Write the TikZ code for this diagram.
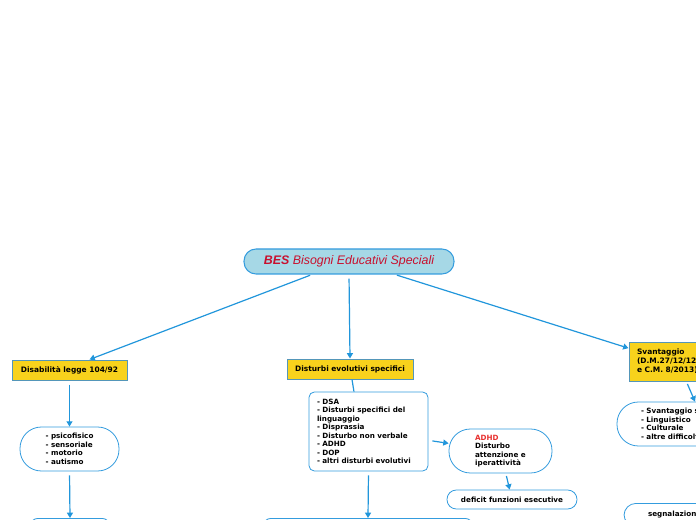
\documentclass[tikz,border=0pt]{standalone}
\usepackage{fontspec}
\setmainfont{DejaVu Sans}
\newfontfamily\titlefont{Liberation Sans}
\usepackage{xcolor}
\usetikzlibrary{arrows.meta, positioning}
\definecolor{rootfill}{RGB}{166, 216, 230}
\definecolor{edgeblue}{RGB}{52, 156, 222}
\definecolor{linkblue}{RGB}{33, 150, 219}
\definecolor{titlered}{RGB}{200, 16, 46}
\definecolor{catyellow}{RGB}{248, 210, 28}
\definecolor{catedge}{RGB}{84, 150, 185}
\definecolor{adhdred}{RGB}{232, 49, 47}

\begin{document}
\begin{tikzpicture}[
    x=0.75pt, y=-0.75pt,
    root/.style={rectangle, rounded corners=9pt, draw=edgeblue, fill=rootfill, line width=0.8pt, minimum width=157.5pt, minimum height=18.75pt, font=\titlefont\fontsize{9.3}{11}\selectfont\itshape, text=titlered},
    category/.style={rectangle, draw=catedge, fill=catyellow, line width=0.75pt, minimum height=15pt, inner sep=0pt, align=left, font=\bfseries\fontsize{5.6}{6.8}\selectfont},
    listbox/.style={rectangle, rounded corners=4pt, draw=edgeblue, fill=white, line width=0.6pt, inner sep=0pt, align=left, font=\bfseries\fontsize{5.4}{6.4}\selectfont},
    pill/.style={listbox, rounded corners=16pt, minimum height=33pt},
    arrow/.style={-{Triangle[width=4.5pt,length=4pt]}, line width=0.9pt, linkblue, shorten <=1.5pt},
    link/.style={line width=0.9pt, linkblue}
]
    \useasboundingbox (0,0) rectangle (696,520);
    \clip (0,0) rectangle (696,520);

    % root
    \node (bes) [root] at (349,261.5) {{\bfseries BES} Bisogni Educativi Speciali};

    % categories
    \node (disab) [category, minimum width=86.25pt] at (69.5,370) {Disabilità legge 104/92};
    \node (disturbi) [category, minimum width=94.5pt] at (350,369) {Disturbi evolutivi specifici};
    \node (svant) [category, minimum height=29.25pt, text width=78pt, inner xsep=6pt] at (689,361.5) {Svantaggio\\(D.M.27/12/12\\e C.M. 8/2013)};

    % lists
    \node (sens) [pill, minimum width=74.25pt] at (69.5,449) {- psicofisico\\- sensoriale\\- motorio\\- autismo};
    \node (dsalist) [listbox, minimum height=59.25pt, text width=77.25pt, inner xsep=6pt] at (368.5,431.5) {- DSA\\- Disturbi specifici del\\linguaggio\\- Disprassia\\- Disturbo non verbale\\- ADHD\\- DOP\\- altri disturbi evolutivi};
    \node (adhd) [pill, minimum width=77.25pt] at (500.5,451) {{\color{adhdred}ADHD}\\Disturbo\\attenzione e\\iperattività};
    \node (deficit) [listbox, rounded corners=7pt, minimum width=97.5pt, minimum height=14.25pt, align=center] at (512,499.5) {deficit funzioni esecutive};
    \node (svlist) [pill, text width=114pt, inner xsep=18pt] at (717,424) {- Svantaggio socio-economico\\- Linguistico\\- Culturale\\- altre difficoltà};

    % lower level (cut by the frame)
    \node (botleft) [listbox, rounded corners=6pt, anchor=north, minimum width=60pt, minimum height=30pt] at (70,518) {};
    \node (botmid) [listbox, rounded corners=6pt, anchor=north, minimum width=157.5pt, minimum height=30pt] at (368,518) {};
    \node (botright) [listbox, rounded corners=9pt, anchor=north, text width=54pt, inner xsep=18pt, inner ysep=6pt] at (684,503) {segnalazione};

    \draw [arrow] ([xshift=-27.75pt]bes.south) -- ([xshift=15pt]disab.north);
    \draw [arrow, shorten <=3pt] (bes.south) -- (disturbi.north);
    \draw [arrow] ([xshift=34.5pt]bes.south) -- ([yshift=10pt]svant.west);
    \draw [arrow, shorten <=3pt] (disab.south) -- (sens.north);
    \draw [link] ([xshift=1.5pt]disturbi.south) -- ([xshift=-10.9pt]dsalist.north);
    \draw [arrow, shorten <=3pt] (dsalist) -- (adhd);
    \draw [arrow, shorten <=2pt] (adhd) -- (deficit);
    \draw [arrow, shorten <=3pt] (sens.south) -- (botleft.north);
    \draw [arrow, shorten <=3pt] (dsalist.south) -- (botmid.north);
    \draw [arrow, shorten <=2pt] ([xshift=-2pt]svant.south) -- ([xshift=-16.5pt]svlist.north);
\end{tikzpicture}
\end{document}
